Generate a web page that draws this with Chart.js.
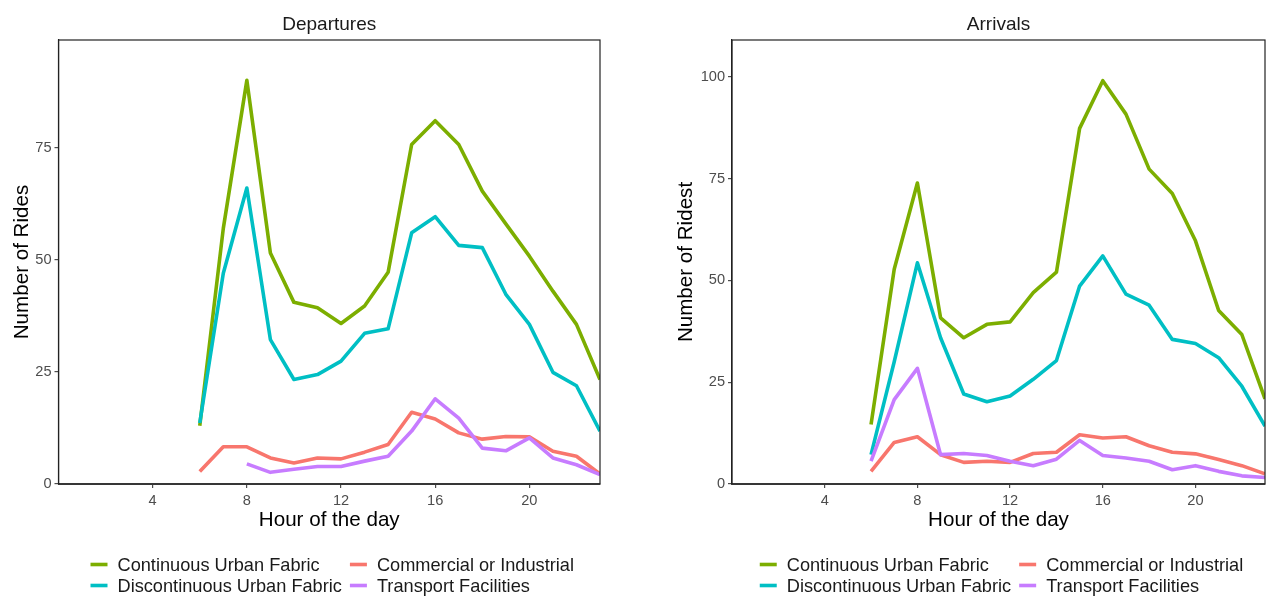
<!DOCTYPE html>
<html>
<head>
<meta charset="utf-8">
<script src="https://cdn.jsdelivr.net/npm/chart.js@4"></script>
<style>
  html, body { margin: 0; padding: 0; background: #fff; }
  .panel { position: absolute; top: 0; height: 599px; }
  #depPanel { left: 0; width: 635px; }
  #arrPanel { left: 635px; width: 636px; }
</style>
</head>
<body>
<div class="panel" id="depPanel"><canvas id="departuresChart"></canvas></div>
<div class="panel" id="arrPanel"><canvas id="arrivalsChart"></canvas></div>
<script>
// Hours of the day with rides recorded
const hours = [6, 7, 8, 9, 10, 11, 12, 13, 14, 15, 16, 17, 18, 19, 20, 21, 22, 23];
const hourTicks = [4, 8, 12, 16, 20];
const depTicks = [0, 25, 50, 75];
const arrTicks = [0, 25, 50, 75, 100];

// Departures per land use class
const depContinuous = [13, 57, 90, 51.5, 40.5, 39.3, 35.8, 39.7, 47.2, 75.7, 81, 75.7, 65.3, 58, 50.8, 43, 35.6, 23.3];
const depDiscontinuous = [13.6, 47, 66, 32.2, 23.3, 24.4, 27.4, 33.6, 34.6, 56, 59.6, 53.2, 52.7, 42.3, 35.6, 24.9, 21.9, 11.8];
const depCommercial = [2.8, 8.3, 8.3, 5.8, 4.7, 5.8, 5.6, 7.1, 8.8, 16, 14.5, 11.4, 10, 10.6, 10.5, 7.3, 6.2, 2.2];
const depTransport = [null, null, 4.5, 2.6, 3.3, 3.9, 3.9, 5.1, 6.2, 11.8, 19, 14.7, 8, 7.4, 10.3, 5.8, 4.3, 2.1];

// Arrivals per land use class
const arrContinuous = [14.6, 52.7, 73.9, 40.8, 35.9, 39.2, 39.8, 47, 52, 87.3, 99, 90.8, 77.3, 71.3, 59.7, 42.6, 36.7, 20.9];
const arrDiscontinuous = [7.2, 30, 54.3, 35.9, 22.1, 20.2, 21.6, 25.7, 30.3, 48.6, 56, 46.6, 43.9, 35.5, 34.5, 31, 24, 14.2];
const arrCommercial = [3.1, 10.2, 11.6, 7.2, 5.3, 5.6, 5.3, 7.5, 7.8, 12.1, 11.3, 11.6, 9.4, 7.8, 7.4, 6, 4.5, 2.5];
const arrTransport = [5.6, 20.7, 28.4, 7.2, 7.5, 7, 5.6, 4.5, 6.1, 10.7, 7, 6.4, 5.6, 3.5, 4.5, 3.1, 2, 1.6];

const classNames = ['Continuous Urban Fabric', 'Discontinuous Urban Fabric', 'Commercial or Industrial', 'Transport Facilities'];
const classColors = ['#7CAE00', '#00BFC4', '#F8766D', '#C77CFF'];
// stacking: transport on top, commercial at the bottom
const drawOrder = [2, 1, 3, 0];

const FONT = '"Liberation Sans", Arial, sans-serif';
const LINE_W = 3.6;

function makeDatasets(seriesList) {
  return seriesList.map((vals, i) => ({
    label: classNames[i],
    data: hours.map((h, j) => ({ x: h, y: vals[j] })),
    borderColor: classColors[i],
    backgroundColor: classColors[i],
    borderWidth: LINE_W,
    borderJoinStyle: 'round',
    pointRadius: 0,
    tension: 0,
    spanGaps: false,
    order: drawOrder[i]
  }));
}

// panel frame plus a 2x2 legend under the x axis
const framePlugin = {
  id: 'frame',
  afterDraw(chart) {
    const { ctx, chartArea: a } = chart;
    ctx.save();
    ctx.strokeStyle = '#222';
    ctx.lineWidth = 1.2;
    ctx.strokeRect(a.left, a.top, a.right - a.left, a.bottom - a.top);

    ctx.font = '18.2px ' + FONT;
    ctx.textBaseline = 'middle';
    const keyLen = 17, keyGap = 10, colGap = 8;
    const w1 = Math.max(ctx.measureText(classNames[0]).width, ctx.measureText(classNames[1]).width);
    const w2 = Math.max(ctx.measureText(classNames[2]).width, ctx.measureText(classNames[3]).width);
    const total = keyLen + keyGap + w1 + colGap + keyLen + keyGap + w2;
    const x0 = (a.left + a.right) / 2 - total / 2 + 3;
    const cols = [x0, x0 + keyLen + keyGap + w1 + colGap];
    const rows = [564.5, 585.5];
    chart.data.datasets.forEach((ds, i) => {
      const x = cols[Math.floor(i / 2)];
      const y = rows[i % 2];
      ctx.strokeStyle = ds.borderColor;
      ctx.lineWidth = LINE_W;
      ctx.beginPath();
      ctx.moveTo(x, y);
      ctx.lineTo(x + keyLen, y);
      ctx.stroke();
      ctx.fillStyle = '#1a1a1a';
      ctx.fillText(ds.label, x + keyLen + keyGap, y + 1);
    });
    ctx.restore();
  }
};

function makeConfig(title, seriesList, yMax, yTicks, yTitle, yWidth, yTitlePad, rightPad) {
  return {
    type: 'line',
    data: { datasets: makeDatasets(seriesList) },
    plugins: [framePlugin],
    options: {
      responsive: true,
      maintainAspectRatio: false,
      animation: false,
      layout: { padding: { left: 0, right: rightPad, top: 0, bottom: 0 } },
      plugins: {
        legend: { display: false },
        tooltip: { enabled: false },
        title: {
          display: true,
          text: title,
          fullSize: false,
          color: '#1a1a1a',
          font: { family: FONT, size: 19, weight: 'normal' },
          padding: { top: 13.4, bottom: 3.8 }
        }
      },
      scales: {
        x: {
          type: 'linear',
          min: 0,
          max: 23,
          afterBuildTicks: s => { s.ticks = hourTicks.map(v => ({ value: v })); },
          afterFit: s => { s.height = 115; },
          grid: { display: true, drawOnChartArea: false, drawTicks: true, tickLength: 4, color: '#4D4D4D', lineWidth: 1.2 },
          border: { display: true, color: '#555', width: 2 },
          ticks: { color: '#4D4D4D', font: { family: FONT, size: 14.6 }, padding: 4.5, maxRotation: 0 },
          title: {
            display: true,
            text: 'Hour of the day',
            color: '#000',
            font: { family: FONT, size: 20.6 },
            padding: { top: 0, bottom: 66.7 }
          }
        },
        y: {
          min: 0,
          max: yMax,
          afterBuildTicks: s => { s.ticks = yTicks.map(v => ({ value: v })); },
          afterFit: s => { s.width = yWidth; },
          grid: { display: true, drawOnChartArea: false, drawTicks: true, tickLength: 4, color: '#4D4D4D', lineWidth: 1.2 },
          border: { display: true, color: '#222', width: 1.2 },
          ticks: { color: '#4D4D4D', font: { family: FONT, size: 14.6 }, padding: 3 },
          title: {
            display: true,
            text: yTitle,
            color: '#000',
            font: { family: FONT, size: 20.6 },
            padding: { top: yTitlePad, bottom: 0 }
          }
        }
      }
    }
  };
}

const depCtx = document.getElementById('departuresChart').getContext('2d');
new Chart(depCtx, makeConfig('Departures',
  [depContinuous, depDiscontinuous, depCommercial, depTransport],
  99, depTicks, 'Number of Rides', 58.5, 9.7, 35));

const arrCtx = document.getElementById('arrivalsChart').getContext('2d');
new Chart(arrCtx, makeConfig('Arrivals',
  [arrContinuous, arrDiscontinuous, arrCommercial, arrTransport],
  109, arrTicks, 'Number of Ridest', 97, 38.7, 6));
</script>
</body>
</html>
